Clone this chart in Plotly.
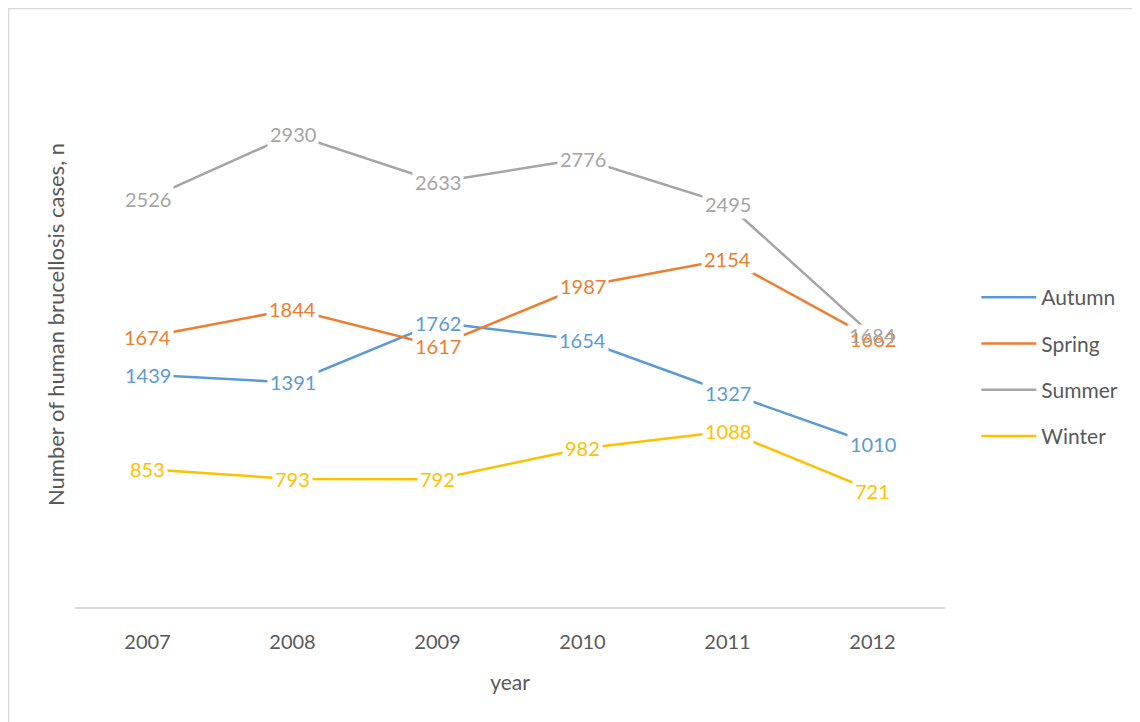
import plotly.graph_objects as go

years = ["2007", "2008", "2009", "2010", "2011", "2012"]
autumn = [1439, 1391, 1762, 1654, 1327, 1010]
spring = [1674, 1844, 1617, 1987, 2154, 1662]
summer = [2526, 2930, 2633, 2776, 2495, 1684]
winter = [853, 793, 792, 982, 1088, 721]

series = [
    ("Autumn", autumn, "#5B9BD5"),
    ("Spring", spring, "#ED7D31"),
    ("Summer", summer, "#A5A5A5"),
    ("Winter", winter, "#FFC000"),
]

FONT = "Lato, Carlito, Calibri, sans-serif"

fig = go.Figure()
annotations = []
for name, vals, color in series:
    fig.add_trace(go.Scatter(
        x=years, y=vals, name=name, mode="lines",
        line=dict(color=color, width=2.5),
        legendgroup=name,
    ))
    for i, v in enumerate(vals):
        transparent = (name == "Summer" and i == len(vals) - 1)
        annotations.append(dict(
            x=i, y=v, xref="x", yref="y", text=str(v), showarrow=False,
            font=dict(family=FONT, size=20, color=color),
            bgcolor="rgba(0,0,0,0)" if transparent else "white",
            borderpad=2,
        ))

fig.update_layout(
    width=1140, height=722,
    margin=dict(l=67, r=203, t=34, b=123, autoexpand=False),
    paper_bgcolor="white", plot_bgcolor="white",
    font=dict(family=FONT, color="#595959"),
    showlegend=True,
    legend=dict(
        x=1.036, xanchor="left", y=0.584, yanchor="top",
        font=dict(family=FONT, size=21, color="#595959"),
        tracegroupgap=16, itemwidth=55,
        bgcolor="rgba(0,0,0,0)",
    ),
    annotations=annotations,
    shapes=[dict(type="rect", xref="paper", yref="paper",
                 x0=-0.0764, x1=1.5, y0=-0.5, y1=1.0593,
                 line=dict(color="#D9D9D9", width=1.5), layer="below")],
)

fig.update_xaxes(
    type="category", range=[-0.5, 5.5], automargin=False,
    showline=True, linecolor="#D9D9D9", linewidth=1.5,
    showgrid=False, zeroline=False, ticks="",
    tickfont=dict(family=FONT, size=20, color="#595959"),
    ticklabelstandoff=16,
    title=dict(text="year", font=dict(family=FONT, size=21, color="#595959"), standoff=24),
)
fig.update_yaxes(
    range=[0, 3500], automargin=False,
    showticklabels=False, showgrid=False, zeroline=False,
    showline=False, ticks="",
    title=dict(text="Number of human brucellosis cases, n",
               font=dict(family=FONT, size=22, color="#595959"), standoff=3),
)

fig.write_html("out.html")
